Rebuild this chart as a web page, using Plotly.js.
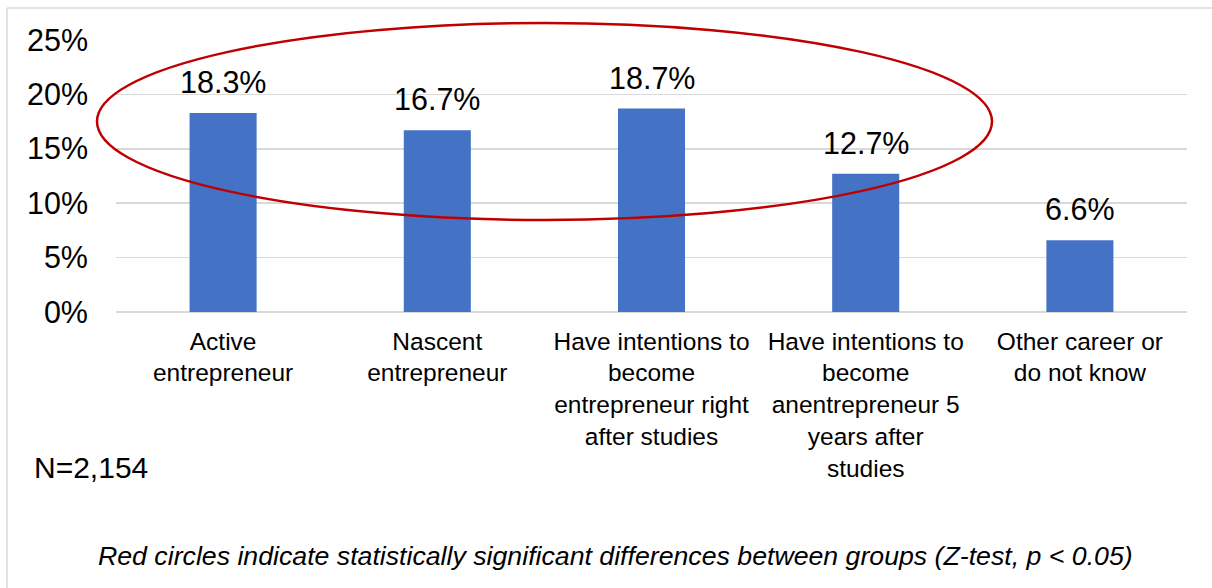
<!DOCTYPE html>
<html>
<head>
<meta charset="utf-8">
<script src="https://cdn.plot.ly/plotly-3.0.1.min.js"></script>
<style>
html,body{margin:0;padding:0;background:#fff;}
#chart{width:1212px;height:588px;}
</style>
</head>
<body>
<div id="chart"></div>
<script>
const categories = ["Active entrepreneur", "Nascent entrepreneur", "Have intentions to become entrepreneur right after studies", "Have intentions to become anentrepreneur 5 years after studies", "Other career or do not know"];
const tickLabels = ["Active<br>entrepreneur", "Nascent<br>entrepreneur", "Have intentions to<br>become<br>entrepreneur right<br>after studies", "Have intentions to<br>become<br>anentrepreneur 5<br>years after<br>studies", "Other career or<br>do not know"];
const shares = [0.183, 0.167, 0.187, 0.127, 0.066];
const yTickVals = [0, 0.05, 0.10, 0.15, 0.20, 0.25];
const yTickText = ["0%", "5%", "10%", "15%", "20%", "25%"];
const sampleNote = "N=2,154";
const footNote = "Red circles indicate statistically significant differences between groups (Z-test, p < 0.05)";

const FONT = "Liberation Sans, Arial, sans-serif";
const PL = 116, PR = 1187, PT = 40, PB = 312;
const PW = PR - PL, PH = PB - PT;
const px = v => (v - PL) / PW;
const py = v => (PB - v) / PH;

const trace = {
  type: "bar",
  x: categories,
  y: shares,
  marker: {color: "#4472C4"},
  hoverinfo: "skip"
};

const labelAnn = categories.map((c, i) => ({
  x: c, y: shares[i], xref: "x", yref: "y",
  text: (shares[i] * 100).toFixed(1) + "%",
  showarrow: false, yanchor: "bottom", yshift: 12,
  font: {family: FONT, size: 30.5, color: "#000"}
}));

const layout = {
  width: 1212, height: 588,
  margin: {l: PL, r: 1212 - PR, t: PT, b: 588 - PB, autoexpand: false},
  paper_bgcolor: "#fff", plot_bgcolor: "#fff",
  bargap: 0.687,
  showlegend: false,
  xaxis: {
    type: "category", automargin: false,
    tickvals: categories, ticktext: tickLabels,
    tickfont: {family: FONT, size: 24.5, color: "#000"},
    showgrid: false, zeroline: false, showline: false,
    ticks: "", ticklabelstandoff: 12, tickangle: 0,
    fixedrange: true
  },
  yaxis: {
    range: [0, 0.25], automargin: false,
    tickvals: yTickVals, ticktext: yTickText,
    tickfont: {family: FONT, size: 30.5, color: "#000"},
    showgrid: true, gridcolor: "#D9D9D9", gridwidth: 1.5,
    zeroline: true, zerolinecolor: "#D9D9D9", zerolinewidth: 1.5,
    showline: false, ticks: "", ticklabelstandoff: 27,
    fixedrange: true
  },
  shapes: [
    {type: "line", xref: "paper", yref: "paper",
     x0: px(7), x1: px(1212), y0: py(8), y1: py(8),
     line: {color: "#D9D9D9", width: 1.5}},
    {type: "line", xref: "paper", yref: "paper",
     x0: px(7), x1: px(7), y0: py(8), y1: py(600),
     line: {color: "#D9D9D9", width: 1.5}},
    {type: "circle", xref: "paper", yref: "paper",
     x0: px(97), x1: px(992), y0: py(220), y1: py(23),
     line: {color: "#C00000", width: 2.5}, fillcolor: "rgba(0,0,0,0)", layer: "above"}
  ],
  annotations: labelAnn.concat([
    {xref: "paper", yref: "paper", x: px(32), y: py(467),
     xanchor: "left", yanchor: "middle", showarrow: false,
     text: sampleNote, font: {family: FONT, size: 30, color: "#000"}},
    {xref: "paper", yref: "paper", x: px(615), y: py(556),
     xanchor: "center", yanchor: "middle", showarrow: false,
     text: "<i>" + footNote + "</i>", font: {family: FONT, size: 26.7, color: "#000"}}
  ])
};

Plotly.newPlot("chart", [trace], layout, {displayModeBar: false, staticPlot: true});
</script>
</body>
</html>
